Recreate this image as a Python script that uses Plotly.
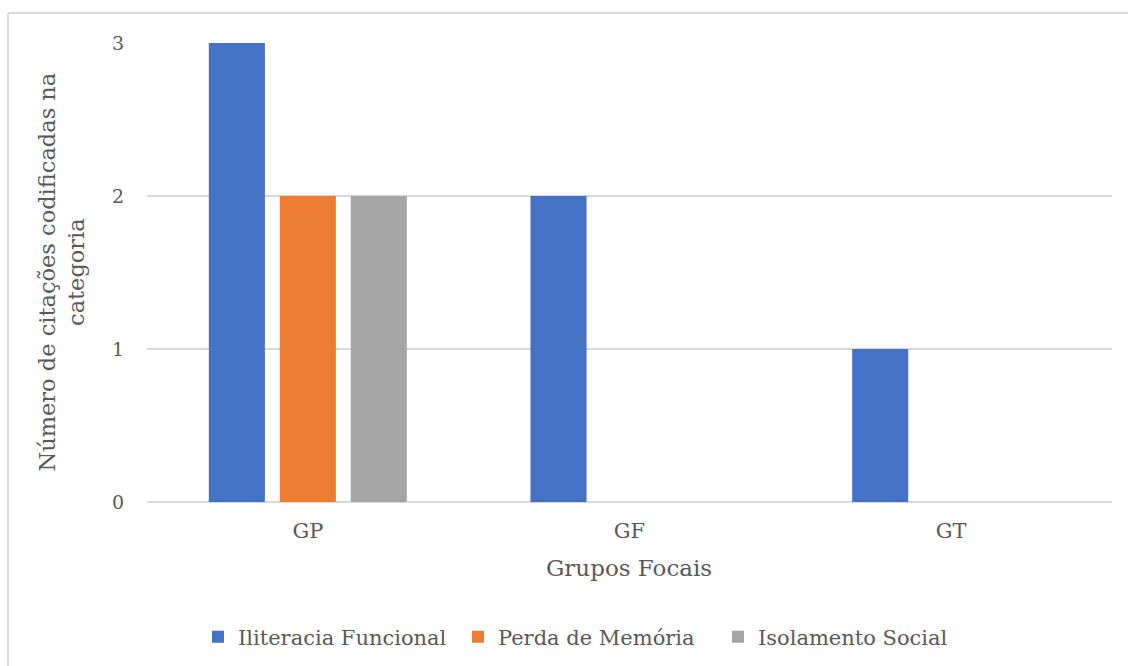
import plotly.graph_objects as go

# Focus groups and coded citation counts per category
grupos = ["GP", "GF", "GT"]
iliteracia_funcional = [3, 2, 1]
perda_de_memoria = [2, 0, 0]
isolamento_social = [2, 0, 0]
y_ticks = [0, 1, 2, 3]

series = [
    ("Iliteracia Funcional", iliteracia_funcional, "#4472C4"),
    ("Perda de Memória", perda_de_memoria, "#ED7D31"),
    ("Isolamento Social", isolamento_social, "#A5A5A5"),
]

W, H = 1128, 666
ML, MR, MT, MB = 147, 16, 43, 164
PW, PH = W - ML - MR, H - MT - MB

FONT = "DejaVu Serif"
TXT = "#595959"
GRID = "#D9D9D9"

fig = go.Figure()
for name, vals, color in series:
    fig.add_trace(go.Bar(
        name=name, x=grupos, y=vals,
        marker=dict(color=color, line=dict(width=0)),
    ))


def px_x(p):
    return (p - ML) / PW


def px_y(p):
    return 1 - (p - MT) / PH


fig.update_layout(
    width=W, height=H,
    margin=dict(l=ML, r=MR, t=MT, b=MB, autoexpand=False),
    paper_bgcolor="white", plot_bgcolor="white",
    barmode="group", bargap=0.338, bargroupgap=0.21,
    font=dict(family=FONT, color=TXT, size=16),
    showlegend=True,
    legend=dict(
        orientation="h", x=px_x(588), xanchor="center", y=px_y(637), yanchor="middle",
        font=dict(family=FONT, size=21, color=TXT),
        itemwidth=30, traceorder="normal",
        entrywidth=215, entrywidthmode="pixels",
    ),
    xaxis=dict(
        showgrid=False, showline=False, zeroline=False,
        ticks="", ticklabelstandoff=14,
        tickfont=dict(family=FONT, size=21, color=TXT),
    ),
    yaxis=dict(
        range=[0, 3], tickvals=y_ticks, ticktext=[str(v) for v in y_ticks],
        showgrid=True, gridcolor=GRID, gridwidth=2,
        zeroline=True, zerolinecolor=GRID, zerolinewidth=2,
        showline=False, ticks="", ticklabelstandoff=22,
        tickfont=dict(family=FONT, size=19, color=TXT),
    ),
    annotations=[
        dict(
            text="Número de citações codificadas na<br>categoria",
            xref="paper", yref="paper", x=px_x(61), y=0.5,
            xanchor="center", yanchor="middle", textangle=-90,
            showarrow=False, font=dict(family=FONT, size=22.5, color=TXT),
        ),
        dict(
            text="Grupos Focais",
            xref="paper", yref="paper", x=px_x(629), y=px_y(568),
            xanchor="center", yanchor="middle",
            showarrow=False, font=dict(family=FONT, size=23, color=TXT),
        ),
    ],
    shapes=[
        dict(type="line", xref="paper", yref="paper",
             x0=px_x(8), x1=px_x(1140), y0=px_y(13), y1=px_y(13),
             line=dict(color=GRID, width=2)),
        dict(type="line", xref="paper", yref="paper",
             x0=px_x(8), x1=px_x(8), y0=px_y(13), y1=px_y(680),
             line=dict(color=GRID, width=2)),
    ],
)

fig.write_html("out.html")
